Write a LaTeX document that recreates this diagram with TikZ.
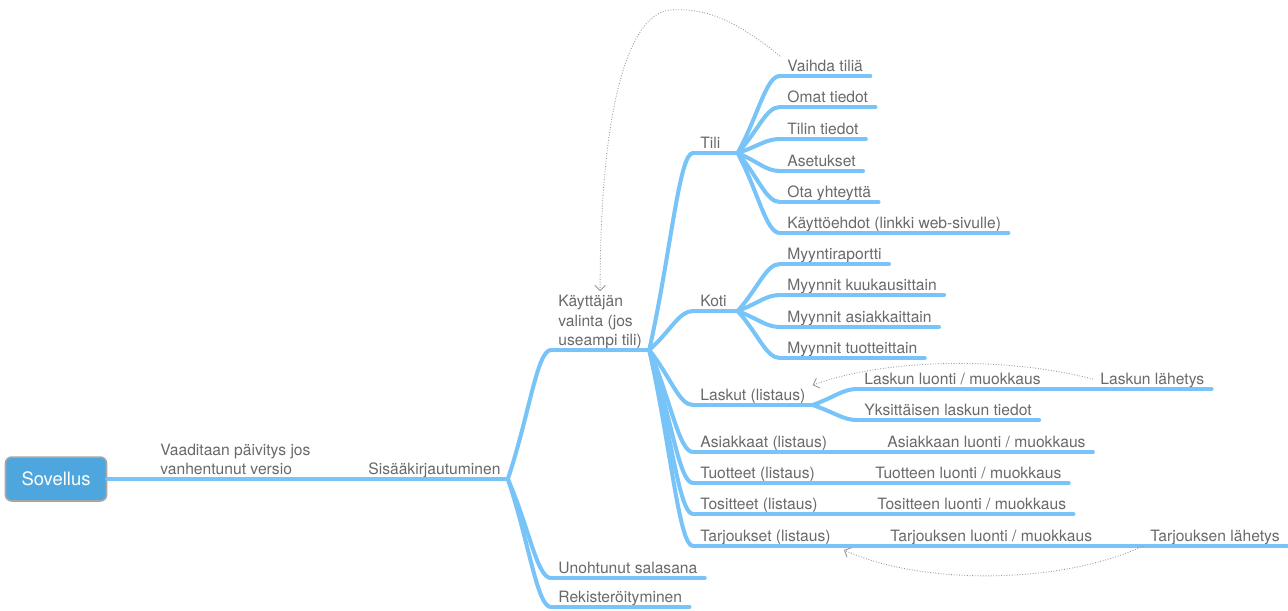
\documentclass[tikz,border=0pt]{standalone}
\usepackage{fontspec}
\setmainfont{TeX Gyre Heros}
\usetikzlibrary{calc,arrows.meta}

\definecolor{mmblue}{RGB}{120,196,248}
\definecolor{mmroot}{RGB}{78,166,222}
\definecolor{mmtext}{RGB}{105,105,105}
\definecolor{mmlink}{RGB}{150,150,150}
\newcommand{\mmfont}{\fontsize{8.9}{11.1}\selectfont}

\tikzset{
  bline/.style={draw=mmblue, line width=2.3pt, line cap=round},
  mm/.style={font=\mmfont, text=mmtext, anchor=south west, inner xsep=4pt, inner ysep=2.2pt, text depth=0pt, align=left},
  ul/.style={mm, append after command={(\tikzlastnode.south west) edge[bline] (\tikzlastnode.south east)}},
  root/.style={rounded corners=3.5pt, fill=mmroot, draw=gray!70, line width=0.9pt, minimum width=57.5pt, minimum height=25pt, text=white, font=\fontsize{10.5}{12}\selectfont},
  branch/.style={bline, to path={.. controls ($(\tikztostart)!0.5!(\tikztotarget)$) and ($(\tikztotarget)+(-14,0)$) .. (\tikztotarget)}},
  link/.style={draw=mmlink, densely dotted, line width=0.5pt, -{Straight Barb[length=3pt]}},
}

\begin{document}
\begin{tikzpicture}[x=0.02cm, y=-0.02cm]
\useasboundingbox (0,0) rectangle (1288,610);

% juuri ja kirjautuminen
\node[root] (sov) at (56,479) {Sovellus};
\node[ul] (vaad) at (153,479) {Vaaditaan päivitys jos\\vanhentunut versio};
\node[ul] (sisaa) at (361,479) {Sisääkirjautuminen};
\node[ul] (kayt) at (551,350) {Käyttäjän\\valinta (jos\\useampi tili)};
\node[ul] (unoh) at (551,578) {Unohtunut salasana};
\node[ul] (reki) at (551,607) {Rekisteröityminen};

% paanakymat
\node[ul, text width=17pt] (tili) at (693,153) {Tili};
\node[ul, text width=17pt] (koti) at (693,311) {Koti};
\node[ul] (lask) at (693,405) {Laskut (listaus)};
\node[ul] (asia) at (693,452) {Asiakkaat (listaus)};
\node[ul] (tuot) at (693,483) {Tuotteet (listaus)};
\node[ul] (tosi) at (693,514) {Tositteet (listaus)};
\node[ul] (tarj) at (693,546) {Tarjoukset (listaus)};

% tili
\node[ul] (vaih) at (780,76) {Vaihda tiliä};
\node[ul] (omat) at (780,107) {Omat tiedot};
\node[ul] (tilt) at (780,139) {Tilin tiedot};
\node[ul] (aset) at (780,171) {Asetukset};
\node[ul] (otay) at (780,202) {Ota yhteyttä};
\node[ul] (ehdot) at (780,233) {Käyttöehdot (linkki web-sivulle)};

% koti
\node[ul] (myra) at (780,264) {Myyntiraportti};
\node[ul] (mykk) at (780,295) {Myynnit kuukausittain};
\node[ul] (myas) at (780,327) {Myynnit asiakkaittain};
\node[ul] (mytu) at (780,358) {Myynnit tuotteittain};

% laskut ja muut listat
\node[ul] (laluo) at (857,389) {Laskun luonti / muokkaus};
\node[ul] (lalah) at (1093,389) {Laskun lähetys};
\node[ul] (yksi) at (857,420) {Yksittäisen laskun tiedot};
\node[ul] (asluo) at (880,452) {Asiakkaan luonti / muokkaus};
\node[ul] (tuluo) at (868,483) {Tuotteen luonti / muokkaus};
\node[ul] (toluo) at (870,514) {Tositteen luonti / muokkaus};
\node[ul] (taluo) at (883,546) {Tarjouksen luonti / muokkaus};
\node[ul] (talah) at (1143,546) {Tarjouksen lähetys};

% haarat
\draw[bline] (sov.east) -- (vaad.south west);
\draw[bline] (vaad.south east) -- (sisaa.south west);
\draw[branch] (sisaa.south east) to (kayt.south west);
\draw[branch] (sisaa.south east) to (unoh.south west);
\draw[branch] (sisaa.south east) to (reki.south west);

\draw[branch] (kayt.south east) to (tili.south west);
\draw[branch] (kayt.south east) to (koti.south west);
\draw[branch] (kayt.south east) to (lask.south west);
\draw[branch] (kayt.south east) to (asia.south west);
\draw[branch] (kayt.south east) to (tuot.south west);
\draw[branch] (kayt.south east) to (tosi.south west);
\draw[branch] (kayt.south east) to (tarj.south west);

\draw[branch] (tili.south east) to (vaih.south west);
\draw[branch] (tili.south east) to (omat.south west);
\draw[branch] (tili.south east) to (tilt.south west);
\draw[branch] (tili.south east) to (aset.south west);
\draw[branch] (tili.south east) to (otay.south west);
\draw[branch] (tili.south east) to (ehdot.south west);

\draw[branch] (koti.south east) to (myra.south west);
\draw[branch] (koti.south east) to (mykk.south west);
\draw[branch] (koti.south east) to (myas.south west);
\draw[branch] (koti.south east) to (mytu.south west);

\draw[branch] (lask.south east) to (laluo.south west);
\draw[branch] (lask.south east) to (yksi.south west);
\draw[bline] (laluo.south east) -- (lalah.south west);
\draw[bline] (asia.south east) -- (asluo.south west);
\draw[bline] (tuot.south east) -- (tuluo.south west);
\draw[bline] (tosi.south east) -- (toluo.south west);
\draw[bline] (tarj.south east) -- (taluo.south west);
\draw[bline] (taluo.south east) -- (talah.south west);

% linkit
\draw[link] (vaih.north west) .. controls (730,15) and (700,8) .. (670,10)
  .. controls (625,15) and (600,120) .. (kayt.north);
\draw[link] (lalah.west) .. controls (1000,355) and (880,360) .. (lask.north east);
\draw[link] (talah.south west) .. controls (1060,585) and (920,585) .. ([shift={(6,4)}]tarj.south east);

\end{tikzpicture}
\end{document}
